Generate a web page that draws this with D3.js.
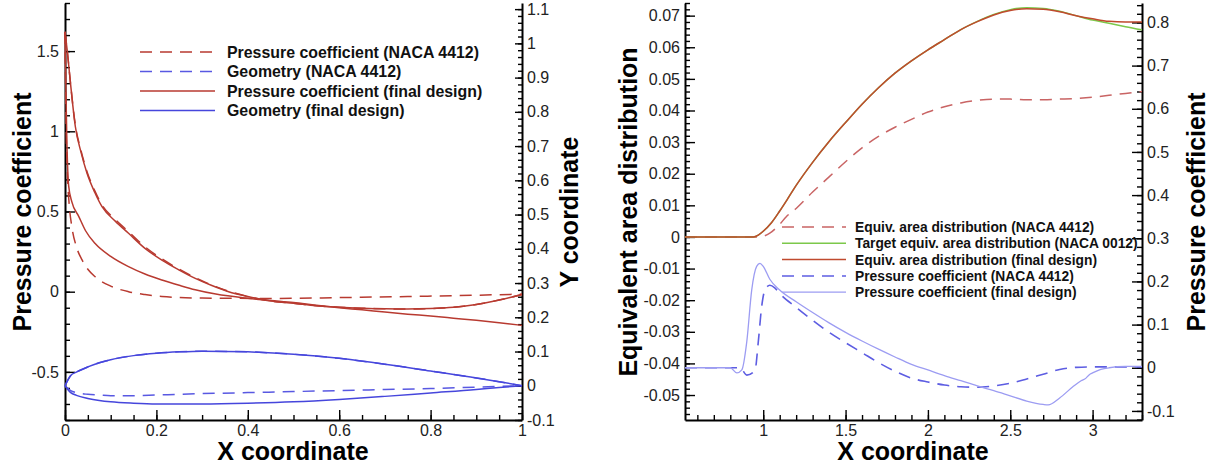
<!DOCTYPE html>
<html>
<head>
<meta charset="utf-8">
<script src="https://cdn.jsdelivr.net/npm/d3@7"></script>
<style>
  body { margin: 0; background: #fff; }
  svg { display: block; font-family: "Liberation Sans", Arial, Helvetica, sans-serif; }
  .tick text { fill: #222; font-size: 16px; }
  .axis path, .axis line { stroke: #000; }
  .axis path { stroke-width: 2; }
  .axis line { stroke-width: 1.4; }
  .title { font-weight: bold; font-size: 25px; fill: #000; }
  .legend text { font-weight: bold; fill: #111; }
  .curve { fill: none; }
</style>
</head>
<body>
<svg id="chart"></svg>
<script>
// ---------- left panel: airfoil pressure coefficient + geometry ----------
const cpUpperX = [0, 0.005, 0.012, 0.0226, 0.035, 0.048, 0.065, 0.081, 0.11, 0.139, 0.175, 0.212, 0.25, 0.285, 0.32, 0.358, 0.4, 0.45, 0.5, 0.55, 0.6, 0.65, 0.7, 0.75, 0.8, 0.85, 0.9, 0.95, 1];
const cpNacaUpper = [1.62, 1.5, 1.3, 1.04, 0.88, 0.75, 0.63, 0.54, 0.45, 0.375, 0.28, 0.205, 0.14, 0.088, 0.043, 0.003, -0.03, -0.058, -0.072, -0.088, -0.097, -0.103, -0.107, -0.108, -0.105, -0.097, -0.08, -0.052, -0.018];
const cpFinalUpper = [1.62, 1.5, 1.3, 1.03, 0.87, 0.74, 0.62, 0.53, 0.44, 0.364, 0.27, 0.197, 0.135, 0.083, 0.04, 0.0, -0.03, -0.058, -0.072, -0.088, -0.097, -0.103, -0.107, -0.108, -0.105, -0.097, -0.08, -0.052, -0.018];

const cpFinalLowerX = [0, 0.002, 0.004, 0.008, 0.015, 0.03, 0.045, 0.066, 0.1, 0.139, 0.175, 0.212, 0.25, 0.285, 0.33, 0.395, 0.45, 0.5, 0.55, 0.6, 0.65, 0.7, 0.75, 0.8, 0.85, 0.9, 0.95, 1];
const cpFinalLower = [1.62, 1.25, 0.95, 0.66, 0.56, 0.47, 0.38, 0.30, 0.22, 0.156, 0.11, 0.073, 0.04, 0.012, -0.015, -0.04, -0.055, -0.068, -0.085, -0.1, -0.113, -0.127, -0.14, -0.152, -0.165, -0.178, -0.193, -0.21];

const cpNacaLowerX = [0, 0.002, 0.005, 0.009, 0.015, 0.025, 0.037, 0.05, 0.066, 0.1, 0.139, 0.175, 0.212, 0.3, 0.45, 0.6, 0.75, 0.9, 1];
const cpNacaLower = [1.62, 1.1, 0.75, 0.55, 0.405, 0.28, 0.2, 0.14, 0.093, 0.035, 0.0, -0.018, -0.03, -0.04, -0.042, -0.037, -0.03, -0.022, -0.015];

const geoX = [0, 0.0125, 0.025, 0.05, 0.075, 0.1, 0.15, 0.2, 0.25, 0.3, 0.4, 0.5, 0.6, 0.7, 0.8, 0.9, 0.95, 1];
const geoUpper = [0, 0.03, 0.04, 0.055, 0.067, 0.076, 0.088, 0.095, 0.099, 0.101, 0.099, 0.092, 0.08, 0.063, 0.043, 0.023, 0.012, 0];
const geoNacaLower = [0, -0.014, -0.02, -0.025, -0.027, -0.029, -0.029, -0.027, -0.025, -0.023, -0.02, -0.017, -0.014, -0.011, -0.008, -0.004, -0.002, 0];
const geoFinalLower = [0, -0.02, -0.028, -0.037, -0.043, -0.047, -0.051, -0.053, -0.053, -0.053, -0.051, -0.047, -0.04, -0.031, -0.021, -0.011, -0.005, 0];

const leftXTicks = [0, 0.2, 0.4, 0.6, 0.8, 1];
const leftCpTicks = [-0.5, 0, 0.5, 1, 1.5];
const leftYTicks = [-0.1, 0, 0.1, 0.2, 0.3, 0.4, 0.5, 0.6, 0.7, 0.8, 0.9, 1, 1.1];

// ---------- right panel: equivalent area + pressure signature ----------
const areaX = [0.525, 0.94, 0.97, 1.0, 1.05, 1.1, 1.15, 1.2, 1.3, 1.4, 1.5, 1.6, 1.7, 1.8, 1.9, 2.0, 2.1, 2.2, 2.3, 2.4, 2.5, 2.6, 2.7, 2.8, 2.9, 3.0, 3.1, 3.2, 3.3];
const areaFinal = [0, 0, 0.0006, 0.0018, 0.0045, 0.0082, 0.0122, 0.0163, 0.0236, 0.0302, 0.0362, 0.0420, 0.0472, 0.0518, 0.0557, 0.0592, 0.0624, 0.0656, 0.0681, 0.0702, 0.0716, 0.0722, 0.0720, 0.0712, 0.0700, 0.0690, 0.0682, 0.0680, 0.0680];
const areaTarget = [0, 0, 0.0006, 0.0018, 0.0045, 0.0082, 0.0122, 0.0163, 0.0236, 0.0302, 0.0362, 0.0420, 0.0472, 0.0518, 0.0557, 0.0592, 0.0624, 0.0656, 0.0682, 0.0704, 0.0719, 0.0725, 0.0723, 0.0714, 0.0700, 0.0686, 0.0676, 0.0665, 0.0655];

const areaNacaX = [0.525, 0.97, 1.04, 1.1, 1.14, 1.2, 1.3, 1.4, 1.5, 1.6, 1.7, 1.8, 1.9, 2.0, 2.1, 2.2, 2.3, 2.4, 2.5, 2.6, 2.7, 2.8, 2.9, 3.0, 3.1, 3.2, 3.3];
const areaNaca = [0, 0, 0.0012, 0.004, 0.0064, 0.009, 0.0142, 0.019, 0.0238, 0.0282, 0.0318, 0.0347, 0.0372, 0.0395, 0.0412, 0.0424, 0.0432, 0.0436, 0.0436, 0.0434, 0.0434, 0.0436, 0.0438, 0.0442, 0.0448, 0.0454, 0.046];

const cpFinalSigX = [0.525, 0.8, 0.84, 0.87, 0.9, 0.93, 0.96, 0.98, 1.0, 1.04, 1.1, 1.2, 1.3, 1.4, 1.5, 1.6, 1.7, 1.8, 1.9, 2.0, 2.1, 2.2, 2.3, 2.4, 2.5, 2.6, 2.7, 2.73, 2.8, 2.88, 2.93, 2.96, 2.98, 3.0, 3.05, 3.1, 3.2, 3.3];
const cpFinalSig = [0, 0, -0.012, -0.005, 0.06, 0.18, 0.235, 0.242, 0.235, 0.205, 0.18, 0.153, 0.128, 0.104, 0.082, 0.062, 0.043, 0.025, 0.008, -0.005, -0.018, -0.03, -0.042, -0.053, -0.065, -0.077, -0.085, -0.086, -0.07, -0.044, -0.03, -0.024, -0.016, -0.012, -0.004, 0.0, 0.003, 0.003];

const cpNacaSigX = [0.525, 0.86, 0.9, 0.95, 0.97, 0.99, 1.01, 1.04, 1.07, 1.1, 1.2, 1.3, 1.4, 1.5, 1.6, 1.7, 1.8, 1.9, 2.0, 2.1, 2.2, 2.3, 2.4, 2.5, 2.6, 2.7, 2.8, 2.9, 3.0, 3.3];
const cpNacaSig = [0, 0, -0.017, -0.006, 0.06, 0.14, 0.18, 0.191, 0.185, 0.172, 0.14, 0.11, 0.082, 0.058, 0.035, 0.012, -0.008, -0.024, -0.033, -0.04, -0.044, -0.045, -0.042, -0.036, -0.026, -0.015, -0.004, 0.001, 0.002, 0.002];

const rightXTicks = [1, 1.5, 2, 2.5, 3];
const rightAreaTicks = [-0.05, -0.04, -0.03, -0.02, -0.01, 0, 0.01, 0.02, 0.03, 0.04, 0.05, 0.06, 0.07];
const rightCpTicks = [-0.1, 0, 0.1, 0.2, 0.3, 0.4, 0.5, 0.6, 0.7, 0.8];

const fmt = d => String(+d.toFixed(3));

const svg = d3.select('#chart')
  .attr('width', 1215)
  .attr('height', 468);

const plotTop = 3, plotBottom = 420;

// scales
const xL = d3.scaleLinear().domain([0, 1]).range([65, 522]);
const cpL = d3.scaleLinear().domain([-0.8, 1.8]).range([plotBottom, plotTop]);
const geoY = d3.scaleLinear().domain([-0.1, -0.1 + 417 / 342.4]).range([plotBottom, plotTop]);

const xR = d3.scaleLinear().domain([0.525, 3.3]).range([685, 1142]);
const areaY = d3.scaleLinear().domain([-0.0579, 0.074]).range([plotBottom, plotTop]);
const cpR = d3.scaleLinear().domain([-0.121, 0.845]).range([plotBottom, plotTop]);

function drawAxis(gen, scale, majors, minors, tx, ty, majorLen, minorLen, pad) {
  svg.append('g')
    .attr('class', 'axis')
    .attr('transform', `translate(${tx},${ty})`)
    .call(gen(scale).tickValues(minors).tickSize(-minorLen).tickFormat(''))
    .call(g => g.select('.domain').remove());
  svg.append('g')
    .attr('class', 'axis')
    .attr('transform', `translate(${tx},${ty})`)
    .call(gen(scale).tickValues(majors).tickSizeInner(-majorLen).tickSizeOuter(0).tickPadding(pad).tickFormat(fmt));
}

const range = (a, b, s) => d3.range(Math.round((b - a) / s) + 1).map(i => +(a + i * s).toFixed(4));

// left panel axes
drawAxis(d3.axisBottom, xL, leftXTicks, range(0, 1, 0.05), 0, plotBottom, 10, 5, 5);
drawAxis(d3.axisLeft, cpL, leftCpTicks, range(-0.8, 1.8, 0.1), 65, 0, 10, 5, 6);
drawAxis(d3.axisRight, geoY, leftYTicks, range(-0.1, 1.1, 0.02), 522, 0, 7, 4, 5);

// right panel axes
drawAxis(d3.axisBottom, xR, rightXTicks, range(0.6, 3.3, 0.1), 0, plotBottom, 10, 5, 5);
drawAxis(d3.axisLeft, areaY, rightAreaTicks, range(-0.056, 0.074, 0.002), 685, 0, 10, 5, 5);
drawAxis(d3.axisRight, cpR, rightCpTicks, range(-0.12, 0.84, 0.02), 1142, 0, 10, 5, 5);

function curve(xs, ys, xScale, yScale, color, width, dash) {
  const pts = xs.map((x, i) => [x, ys[i]]);
  svg.append('path')
    .datum(pts)
    .attr('class', 'curve')
    .attr('stroke', color)
    .attr('stroke-width', width)
    .attr('stroke-dasharray', dash || null)
    .attr('d', d3.line().x(d => xScale(d[0])).y(d => yScale(d[1])).curve(d3.curveMonotoneX));
}

const red = '#b83a30', blueDash = '#5858e2', blue = '#4646dc';
const dashL = '12,8';

// left panel curves
curve(cpUpperX, cpNacaUpper, xL, cpL, red, 1.5, dashL);
curve(cpNacaLowerX, cpNacaLower, xL, cpL, red, 1.5, dashL);
curve(geoX, geoUpper, xL, geoY, blueDash, 1.5, dashL);
curve(geoX, geoNacaLower, xL, geoY, blueDash, 1.5, dashL);
curve(cpUpperX, cpFinalUpper, xL, cpL, red, 1.5);
curve(cpFinalLowerX, cpFinalLower, xL, cpL, red, 1.5);
curve(geoX, geoUpper, xL, geoY, blue, 1.5);
curve(geoX, geoFinalLower, xL, geoY, blue, 1.5);

// right panel curves
const redLight = '#c96464', green = '#7cc84a', redDark = '#c04a2e', blueR = '#5d5de2', blueLight = '#9c9cf2';
curve(areaNacaX, areaNaca, xR, areaY, redLight, 1.5, '12,8');
curve(areaX, areaTarget, xR, areaY, green, 1.5);
curve(areaX, areaFinal, xR, areaY, redDark, 1.5);
curve(cpNacaSigX, cpNacaSig, xR, cpR, blueR, 1.6, '12,8');
curve(cpFinalSigX, cpFinalSig, xR, cpR, blueLight, 1.3);

// legends
function legend(items, x1, x2, tx, y0, dy, size) {
  const g = svg.append('g').attr('class', 'legend');
  items.forEach((it, i) => {
    const y = y0 + i * dy;
    g.append('line')
      .attr('x1', x1).attr('x2', x2).attr('y1', y).attr('y2', y)
      .attr('stroke', it.color).attr('stroke-width', it.width || 1.5)
      .attr('stroke-dasharray', it.dash || null);
    g.append('text')
      .attr('x', tx).attr('y', y).attr('dy', '0.36em')
      .style('font-size', size + 'px')
      .text(it.label);
  });
}

legend([
  { label: 'Pressure coefficient (NACA 4412)', color: red, dash: '12,8' },
  { label: 'Geometry (NACA 4412)', color: blueDash, dash: '12,8' },
  { label: 'Pressure coefficient (final design)', color: red },
  { label: 'Geometry (final design)', color: blue }
], 140, 215, 227, 52, 19.5, 15.9);

legend([
  { label: 'Equiv. area distribution (NACA 4412)', color: redLight, dash: '12,8' },
  { label: 'Target equiv. area distribution (NACA 0012)', color: green },
  { label: 'Equiv. area distribution (final design)', color: redDark },
  { label: 'Pressure coefficient (NACA 4412)', color: blueR, dash: '12,8' },
  { label: 'Pressure coefficient (final design)', color: blueLight, width: 1.3 }
], 782, 846, 855, 227, 16.3, 13.8);

// axis titles
function title(text, x, y, rot) {
  svg.append('text')
    .attr('class', 'title')
    .attr('text-anchor', 'middle')
    .attr('transform', `translate(${x},${y})` + (rot ? ' rotate(-90)' : ''))
    .text(text);
}
title('Pressure coefficient', 31, 212, true);
title('Y coordinate', 578, 212, true);
title('X coordinate', 293, 460, false);
title('Equivalent area distribution', 637, 212, true);
title('Pressure coefficient', 1205, 212, true);
title('X coordinate', 913, 460, false);
</script>
</body>
</html>
